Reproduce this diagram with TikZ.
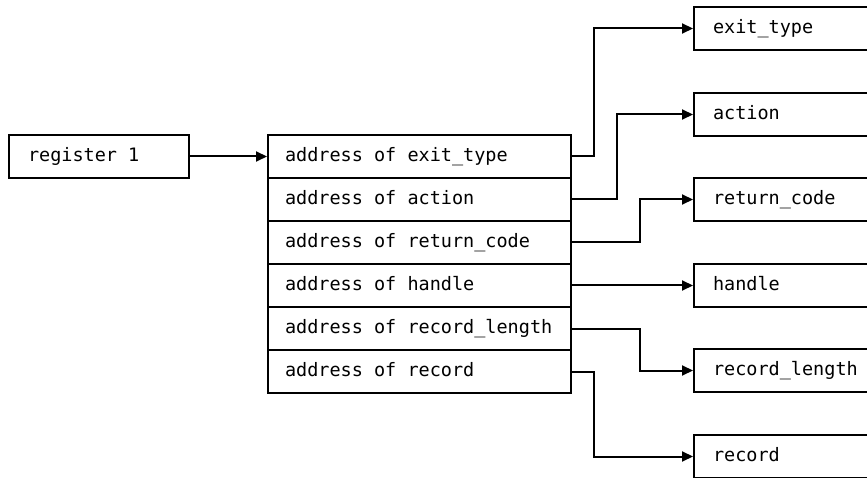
\documentclass[tikz,border=0pt]{standalone}
\usepackage{fontspec}
\setmonofont{DejaVu Sans Mono}[WordSpace={1,0,0}]
\usetikzlibrary{arrows.meta}

\newlength{\du}
\setlength{\du}{1pt}

\tikzset{
  cell/.style={draw=black, line width=2.000000\du, minimum height=43.000000\du,
    inner xsep=17.000000\du, inner ysep=0pt, text height=14.000000\du, text depth=4.000000\du,
    anchor=west, font=\ttfamily\fontsize{18.5}{22}\selectfont,
    execute at begin node={\spaceskip=0.6021em\relax\xspaceskip=0.6021em\relax}},
  rowcell/.style={cell, text width=269.000000\du},
  fieldcell/.style={cell, inner xsep=19.000000\du, text width=162.000000\du},
  wire/.style={draw=black, line width=2.000000\du, -{Triangle[length=11pt,width=10pt]}},
}

\begin{document}
\begin{tikzpicture}
\pgftransformxscale{1.000000}
\pgftransformyscale{-1.000000}
\fill[white] (0.000000\du,0.000000\du) rectangle (867.000000\du,478.000000\du);
\useasboundingbox (0.000000\du,0.000000\du) rectangle (867.000000\du,478.000000\du);
\clip (0.000000\du,0.000000\du) rectangle (867.000000\du,478.000000\du);
% register
\node[cell, inner xsep=19.000000\du, text width=142.000000\du] (reg) at (8.000000\du,156.500000\du){register 1};
% parameter list
\node[rowcell] (adr1) at (267.000000\du,156.500000\du){address of exit\_type};
\node[rowcell] (adr2) at (267.000000\du,199.500000\du){address of action};
\node[rowcell] (adr3) at (267.000000\du,242.500000\du){address of return\_code};
\node[rowcell] (adr4) at (267.000000\du,285.500000\du){address of handle};
\node[rowcell] (adr5) at (267.000000\du,328.500000\du){address of record\_length};
\node[rowcell] (adr6) at (267.000000\du,371.500000\du){address of record};
% fields
\node[fieldcell] (exit) at (693.000000\du,28.500000\du){exit\_type};
\node[fieldcell] (act) at (693.000000\du,114.500000\du){action};
\node[fieldcell] (ret) at (693.000000\du,199.500000\du){return\_code};
\node[fieldcell] (hdl) at (693.000000\du,285.500000\du){handle};
\node[fieldcell] (reclen) at (693.000000\du,370.500000\du){record\_length};
\node[fieldcell] (rec) at (693.000000\du,456.500000\du){record};
% was here!!!
\draw[wire] (reg.east)--(adr1.west);
\draw[wire] (adr1.east)--++(22.000000\du,0)|-(exit.west);
\draw[wire] (adr2.east)--++(45.000000\du,0)|-(act.west);
\draw[wire] (adr3.east)--++(68.000000\du,0)|-(ret.west);
\draw[wire] (adr4.east)--(hdl.west);
\draw[wire] (adr5.east)--++(68.000000\du,0)|-(reclen.west);
\draw[wire] (adr6.east)--++(22.000000\du,0)|-(rec.west);
\end{tikzpicture}
\end{document}
